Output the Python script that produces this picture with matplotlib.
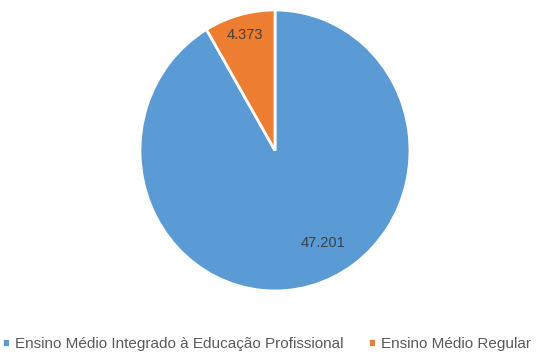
import matplotlib
matplotlib.use('Agg')
import matplotlib.pyplot as plt
import numpy as np

categorias = ['Ensino Médio Integrado à Educação Profissional', 'Ensino Médio Regular']
valores = [47201, 4373]
rotulos = ['47.201', '4.373']
cores = ['#5B9BD5', '#ED7D31']

plt.rcParams['font.family'] = ['Liberation Sans', 'DejaVu Sans']

fig = plt.figure(figsize=(5.49, 3.6), dpi=100)
ax = fig.add_axes([0.255, 0.1917, 0.4918, 0.7806])

wedges, _ = ax.pie(valores, colors=cores, startangle=90, counterclock=False,
                   wedgeprops=dict(edgecolor='white', linewidth=2))
ax.set_xlim(-1, 1)
ax.set_ylim(-1, 1)
ax.set_aspect('auto')

# rótulos dentro das fatias (posição "melhor ajuste")
dist = [0.75, 0.85]
desvio = [13, 0]
for w, txt, d, dv in zip(wedges, rotulos, dist, desvio):
    ang = np.deg2rad((w.theta1 + w.theta2) / 2 + dv)
    ax.text(d * np.cos(ang), d * np.sin(ang), txt, ha='center', va='center',
            fontsize=10.5, color='#404040')

fig.legend(wedges, categorias, loc='center', bbox_to_anchor=(0.485, 1 - 344 / 360),
           ncol=2, frameon=False, handlelength=0.55, handleheight=0.55,
           handletextpad=0.3, columnspacing=1.6, fontsize=11, labelcolor='#595959')

fig.savefig('out.png', dpi=100)
